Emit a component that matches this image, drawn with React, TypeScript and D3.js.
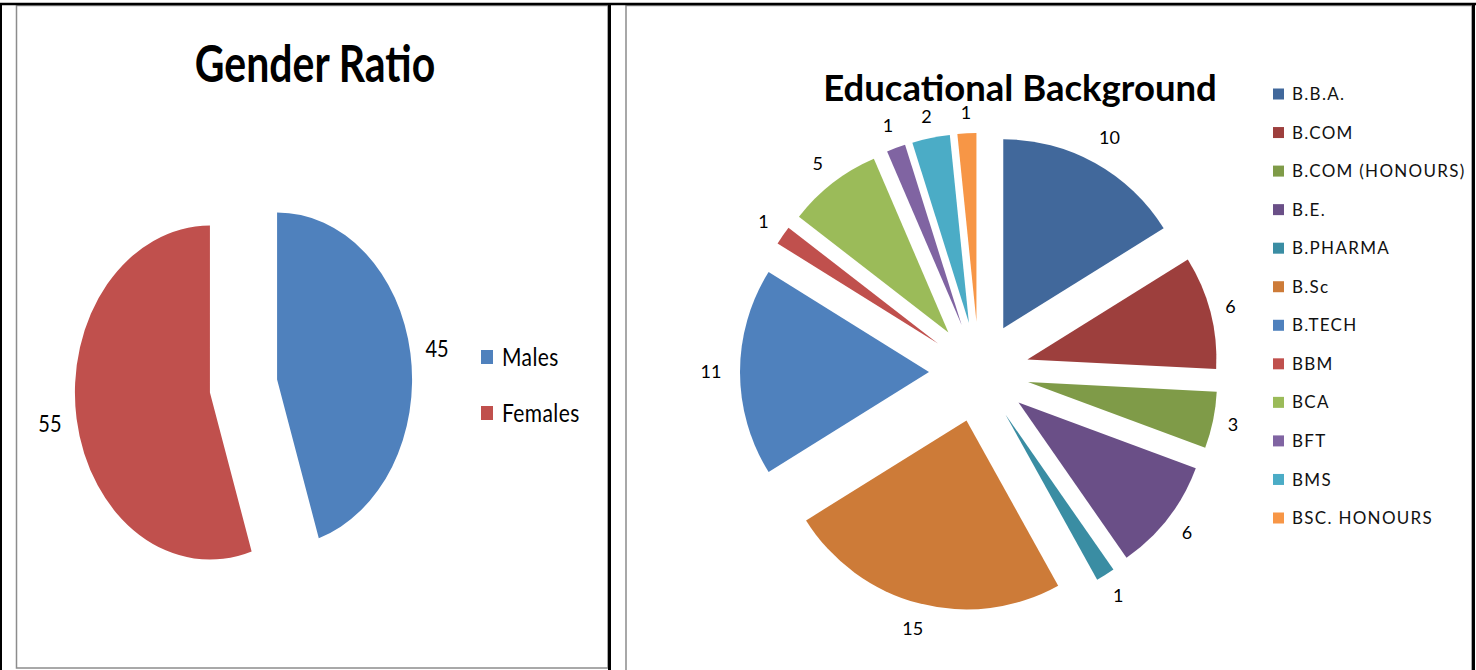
import React from 'react';
import * as d3 from 'd3';

const genderLabels = ['Males', 'Females'];
const genderValues = [45, 55];
const genderColors = ['#4F81BD', '#C0504D'];

const eduLabels = ['B.B.A.', 'B.COM', 'B.COM (HONOURS)', 'B.E.', 'B.PHARMA', 'B.Sc', 'B.TECH', 'BBM', 'BCA', 'BFT', 'BMS', 'BSC. HONOURS'];
const eduValues = [10, 6, 3, 6, 1, 15, 11, 1, 5, 1, 2, 1];
const eduColors = ['#41689B', '#9D3F3D', '#7F9B48', '#6A4F87', '#3A8DA3', '#CD7B38', '#4F81BD', '#C0504D', '#9BBB59', '#8064A2', '#4BACC6', '#F79646'];

const FONT = 'Lato, "Open Sans", sans-serif';

// label distance: base + factor * half-extent of the label box along the slice direction
function explodedPie(values: number[], r: number, d: number, base: number, factor: number, charW: number, h: number) {
  const pie = d3.pie<number>().sort(null).value((v) => v);
  const arc = d3.arc<d3.PieArcDatum<number>>().innerRadius(0).outerRadius(r);
  return pie(values).map((a, i) => {
    const mid = (a.startAngle + a.endAngle) / 2;
    const sx = Math.sin(mid), sy = -Math.cos(mid);
    const w = String(a.data).length * charW;
    const ext = Math.abs(sx) * w / 2 + Math.abs(sy) * h / 2;
    const L = base + factor * ext;
    return {
      i,
      value: a.data,
      path: arc(a) as string,
      ox: sx * d,
      oy: sy * d,
      lx: sx * (d + L),
      ly: sy * (d + L),
    };
  });
}

export default function App() {
  // Left chart (vertically stretched)
  const gcx = 243.5, gcy = 386, gk = 1.237;
  const gSlices = explodedPie(genderValues, 135, 34, 162, 0, 0, 0);

  // Right chart
  const ecx = 979, ecy = 372;
  const eSlices = explodedPie(eduValues, 189, 50, 195, 2.2, 10.5, 13);

  const legendY = d3.scaleLinear().domain([0, eduLabels.length - 1]).range([94, 518]);
  const gLegendY = d3.scaleLinear().domain([0, 1]).range([357, 413]);

  return (
    <svg width={1476} height={670} style={{ position: 'absolute', left: 0, top: 0, background: '#fff' }}>
      <rect x={0} y={0} width={1476} height={670} fill="#fff" />
      {/* chart borders */}
      <rect x={16.5} y={5.5} width={591.5} height={662.5} fill="none" stroke="#8c8c8c" strokeWidth={1.5} />
      <rect x={626} y={5.5} width={846} height={680} fill="none" stroke="#8c8c8c" strokeWidth={1.5} />
      {/* table black lines */}
      <line x1={0} x2={1476} y1={4} y2={4} stroke="#000" strokeWidth={2.5} />
      <line x1={1} x2={1} y1={3} y2={670} stroke="#000" strokeWidth={2} />
      <line x1={609.5} x2={609.5} y1={3} y2={670} stroke="#000" strokeWidth={3} />
      <line x1={1473.5} x2={1473.5} y1={3} y2={670} stroke="#000" strokeWidth={3} />

      {/* Gender Ratio */}
      <text transform={`translate(315,82) scale(1,1.26)`} textAnchor="middle" fontFamily={FONT} fontWeight={700} fontSize={41} fill="#000">Gender Ratio</text>
      <g transform={`translate(${gcx},${gcy}) scale(1,${gk})`}>
        {gSlices.map((s) => (
          <path key={s.i} d={s.path} transform={`translate(${s.ox},${s.oy})`} fill={genderColors[s.i]} />
        ))}
      </g>
      {gSlices.map((s) => (
        <text key={'gl' + s.i} transform={`translate(${gcx + s.lx},${gcy + s.ly * gk}) scale(1,1.18)`} textAnchor="middle" dy="0.36em" fontFamily={FONT} fontSize={20} fill="#000">{s.value}</text>
      ))}
      {genderLabels.map((lab, i) => (
        <g key={'gleg' + i}>
          <rect x={481} y={gLegendY(i) - 7} width={12} height={14} fill={genderColors[i]} />
          <text transform={`translate(502,${gLegendY(i)}) scale(1,1.2)`} dy="0.36em" fontFamily={FONT} fontSize={21} letterSpacing={0.4} fill="#000">{lab}</text>
        </g>
      ))}

      {/* Educational Background */}
      <text x={1020} y={101} textAnchor="middle" fontFamily={FONT} fontWeight={700} fontSize={36.5} fill="#000">Educational Background</text>
      <g transform={`translate(${ecx},${ecy})`}>
        {eSlices.map((s) => (
          <path key={s.i} d={s.path} transform={`translate(${s.ox},${s.oy})`} fill={eduColors[s.i]} />
        ))}
        {eSlices.map((s) => (
          <text key={'el' + s.i} x={s.lx} y={s.ly} dy="0.36em" textAnchor="middle" fontFamily={FONT} fontSize={18} fill="#000">{s.value}</text>
        ))}
      </g>
      {eduLabels.map((lab, i) => (
        <g key={'eleg' + i}>
          <rect x={1273} y={legendY(i) - 5.5} width={11} height={11} fill={eduColors[i]} />
          <text x={1292} y={legendY(i)} dy="0.36em" fontFamily={FONT} fontSize={17} letterSpacing={1.3} fill="#111">{lab}</text>
        </g>
      ))}
    </svg>
  );
}
